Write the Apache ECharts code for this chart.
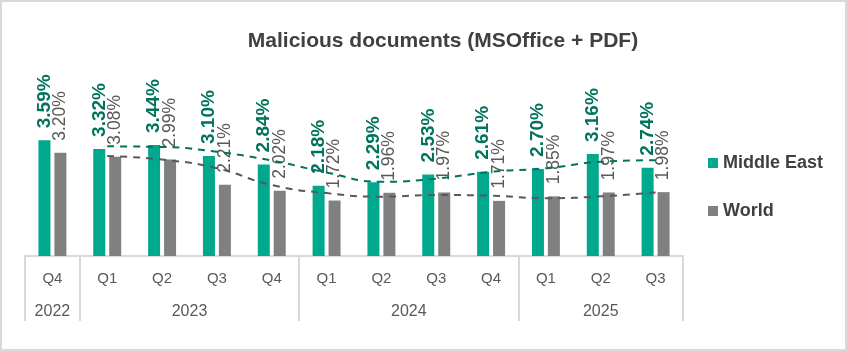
<!DOCTYPE html>
<html>
<head>
<meta charset="utf-8">
<script src="https://cdn.jsdelivr.net/npm/echarts@6/dist/echarts.min.js"></script>
<style>
    html, body { margin: 0; padding: 0; background: #fff; }
    #chart { width: 847px; height: 351px; }
</style>
</head>
<body>
<div id="chart"></div>
<script>
    // quarters on the axis, years grouped under them
    var quarters = ['Q4', 'Q1', 'Q2', 'Q3', 'Q4', 'Q1', 'Q2', 'Q3', 'Q4', 'Q1', 'Q2', 'Q3'];
    var years = ['2022', '2023', '2024', '2025'];
    var yearQuarterCount = [1, 4, 4, 3];

    var middleEast = [3.59, 3.32, 3.44, 3.10, 2.84, 2.18, 2.29, 2.53, 2.61, 2.70, 3.16, 2.74];
    var world = [3.20, 3.08, 2.99, 2.21, 2.02, 1.72, 1.96, 1.97, 1.71, 1.85, 1.97, 1.98];

    // dashed trend lines
    var middleEastTrend = [null, 3.40, 3.38, 3.23, 2.96, 2.59, 2.30, 2.40, 2.61, 2.72, 2.92, 2.97];
    var worldTrend = [null, 3.10, 2.99, 2.72, 2.20, 1.95, 1.84, 1.89, 1.87, 1.79, 1.85, 1.97];

    // year axis: half-quarter slots so a year label can sit in the middle of its group
    var yearSlots = [];
    var yearBounds = [];
    for (var i = 0; i <= quarters.length * 2; i++) yearSlots.push('');
    var start = 0;
    for (var y = 0; y < years.length; y++) {
        yearBounds.push(start * 2);
        yearSlots[start * 2 + yearQuarterCount[y]] = years[y];
        start += yearQuarterCount[y];
    }
    yearBounds.push(quarters.length * 2);

    var font = 'Liberation Sans';

    var option = {
        animation: false,
        textStyle: { fontFamily: font },
        title: {
            text: 'Malicious documents (MSOffice + PDF)',
            left: 438,
            top: 26,
            textAlign: 'center',
            textStyle: { fontSize: 21, fontWeight: 'bold', color: '#404040', fontFamily: font }
        },
        legend: {
            data: ['Middle East', 'World'],
            orient: 'vertical',
            left: 703,
            top: 149,
            itemWidth: 10,
            itemHeight: 10,
            itemGap: 30,
            icon: 'rect',
            textStyle: { fontSize: 18, fontWeight: 'bold', color: '#404040', fontFamily: font }
        },
        grid: { left: 25, right: 164, top: 127, bottom: 95 },
        xAxis: [{
            type: 'category',
            data: quarters,
            axisLine: { lineStyle: { color: '#d9d9d9', width: 2 } },
            axisTick: { show: false },
            axisLabel: { color: '#595959', fontSize: 15, margin: 15 }
        }, {
            type: 'category',
            data: yearSlots,
            position: 'bottom',
            boundaryGap: false,
            axisLine: { show: false },
            axisTick: {
                show: true,
                length: 65,
                lineStyle: { color: '#d9d9d9', width: 2 },
                interval: function (index) { return yearBounds.indexOf(index) >= 0; }
            },
            axisLabel: { interval: 0, color: '#595959', fontSize: 16, margin: 48 }
        }],
        yAxis: {
            type: 'value',
            min: 0,
            max: 4,
            show: false,
            splitLine: { show: false }
        },
        series: [{
            name: 'Middle East',
            type: 'bar',
            data: middleEast,
            barWidth: 12,
            barGap: '33%',
            itemStyle: { color: '#00a88e' },
            label: {
                show: true,
                position: 'top',
                rotate: 90,
                align: 'left',
                verticalAlign: 'middle',
                distance: 12,
                color: '#00735e',
                fontSize: 19,
                fontWeight: 'bold',
                formatter: function (p) { return p.value.toFixed(2) + '%'; }
            }
        }, {
            name: 'World',
            type: 'bar',
            data: world,
            barWidth: 12,
            itemStyle: { color: '#808080' },
            label: {
                show: true,
                position: 'top',
                rotate: 90,
                align: 'left',
                verticalAlign: 'middle',
                distance: 12,
                color: '#595959',
                fontSize: 17.5,
                formatter: function (p) { return p.value.toFixed(2) + '%'; }
            }
        }, {
            name: 'Middle East trend',
            type: 'line',
            data: middleEastTrend,
            smooth: true,
            symbol: 'none',
            z: 5,
            lineStyle: { color: '#00735e', width: 2, type: [7, 6] }
        }, {
            name: 'World trend',
            type: 'line',
            data: worldTrend,
            smooth: true,
            symbol: 'none',
            z: 5,
            lineStyle: { color: '#595959', width: 2, type: [7, 6] }
        }],
        graphic: [{
            type: 'rect',
            shape: { x: 1, y: 1, width: 845, height: 349 },
            style: { fill: 'none', stroke: '#d9d9d9', lineWidth: 2 },
            silent: true
        }]
    };

    var myChart = echarts.init(document.getElementById('chart'));
    myChart.setOption(option);
</script>
</body>
</html>
